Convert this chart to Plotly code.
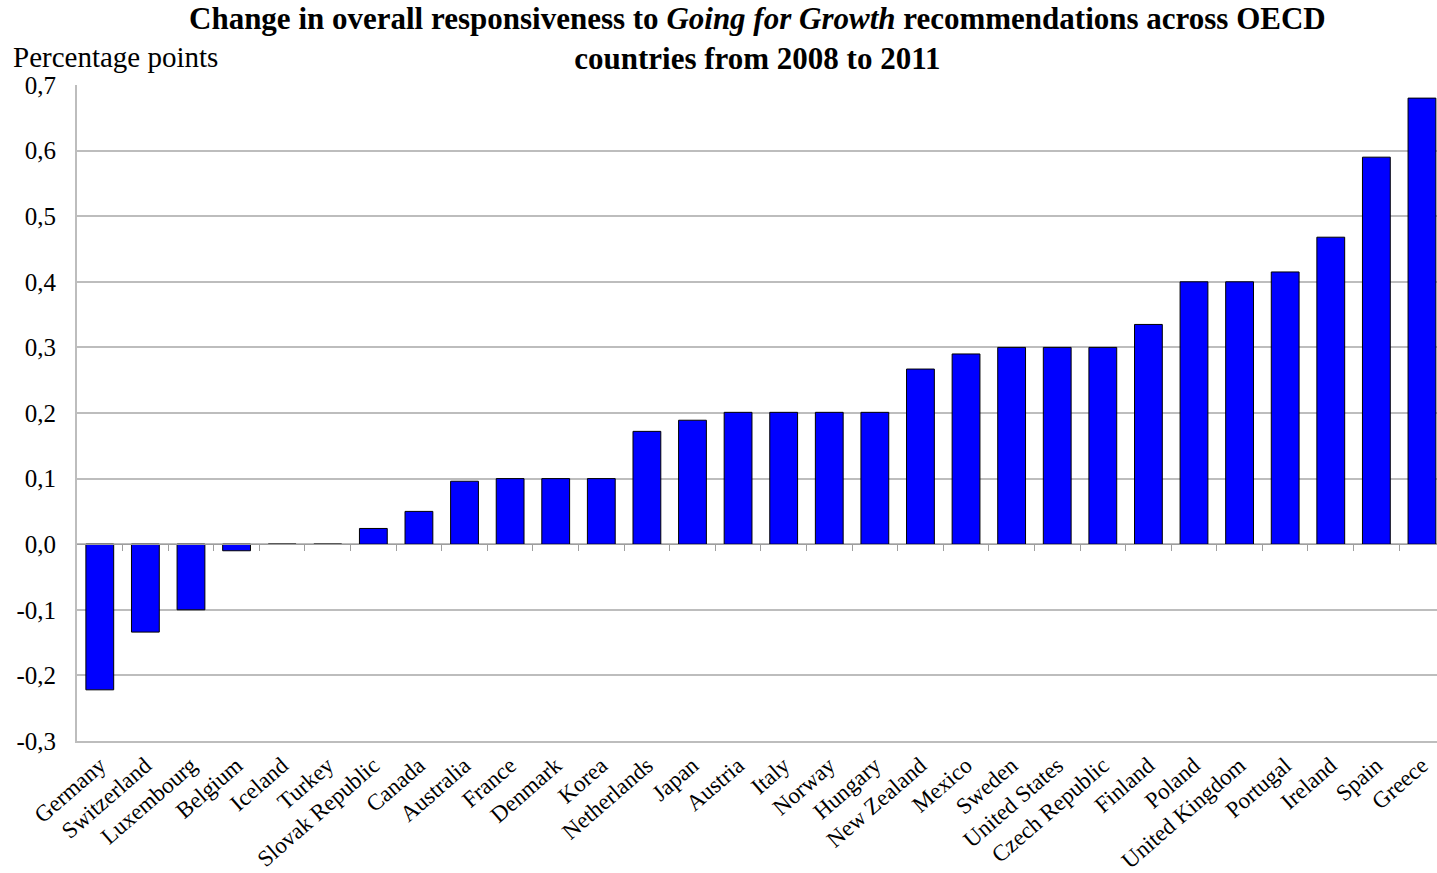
import plotly.graph_objects as go

countries = ["Germany", "Switzerland", "Luxembourg", "Belgium", "Iceland", "Turkey",
             "Slovak Republic", "Canada", "Australia", "France", "Denmark", "Korea",
             "Netherlands", "Japan", "Austria", "Italy", "Norway", "Hungary",
             "New Zealand", "Mexico", "Sweden", "United States", "Czech Republic",
             "Finland", "Poland", "United Kingdom", "Portugal", "Ireland", "Spain", "Greece"]
values = [-0.222, -0.134, -0.100, -0.010, 0.0, 0.0,
          0.024, 0.050, 0.096, 0.100, 0.100, 0.100,
          0.172, 0.189, 0.201, 0.201, 0.201, 0.201,
          0.267, 0.290, 0.300, 0.300, 0.300,
          0.335, 0.400, 0.400, 0.415, 0.468, 0.590, 0.680]
y_tick_vals = [-0.3, -0.2, -0.1, 0.0, 0.1, 0.2, 0.3, 0.4, 0.5, 0.6, 0.7]
y_tick_labels = ["-0,3", "-0,2", "-0,1", "0,0", "0,1", "0,2", "0,3", "0,4", "0,5", "0,6", "0,7"]

FONT = "Liberation Serif, Times New Roman, serif"
idx = list(range(len(countries)))
x_range = [-0.5, len(countries) - 0.5 - 0.17]
y_range = [-0.3, 0.7]

fig = go.Figure()
fig.add_trace(go.Bar(
    x=idx, y=values,
    marker=dict(color="#0000FF", line=dict(color="#000000", width=1)),
    width=0.61, hoverinfo="x+y"
))

fig.update_layout(
    width=1437, height=873,
    margin=dict(l=77, r=0, t=85, b=132),
    paper_bgcolor="white", plot_bgcolor="white",
    showlegend=False,
    font=dict(family=FONT, color="#000000"),
    xaxis=dict(
        range=x_range,
        tickmode="array", tickvals=idx, ticktext=countries,
        tickangle=-41, tickfont=dict(family=FONT, size=23, color="#000000"),
        ticks="", showgrid=False, zeroline=False,
        showline=True, linecolor="#BDBDBD", linewidth=2, mirror=False,
    ),
    xaxis2=dict(
        range=x_range, overlaying="x", anchor="free", position=0.3,
        tickmode="array", tickvals=[i + 0.5 for i in idx], showticklabels=False,
        ticks="outside", ticklen=6, tickcolor="#9E9E9E", tickwidth=1,
        showgrid=False, zeroline=False,
        showline=True, linecolor="#9E9E9E", linewidth=1,
    ),
    yaxis=dict(
        range=y_range, tickmode="array", tickvals=y_tick_vals, ticktext=y_tick_labels,
        tickfont=dict(family=FONT, size=25, color="#000000"),
        showgrid=True, gridcolor="#BDBDBD", gridwidth=1.5,
        zeroline=False, showline=True, linecolor="#BDBDBD", linewidth=2,
        ticks="", ticklabelstandoff=14,
    ),
    annotations=[
        dict(
            text="<b>Change in overall responsiveness to <i>Going for Growth</i> recommendations across OECD<br>countries from 2008 to 2011</b>",
            xref="paper", yref="paper", x=0.5, y=(741 - 38) / 656,
            xanchor="center", yanchor="middle", showarrow=False,
            font=dict(family=FONT, size=31, color="#000000"),
        ),
        dict(
            text="Percentage points", xref="paper", yref="paper",
            x=(11 - 77) / 1360, y=(741 - 57) / 656, xanchor="left", yanchor="middle",
            showarrow=False, font=dict(family=FONT, size=29, color="#000000"),
        ),
    ],
)
fig.add_trace(go.Scatter(x=[None], y=[None], xaxis="x2", showlegend=False, hoverinfo="skip"))

fig.write_html("out.html")
